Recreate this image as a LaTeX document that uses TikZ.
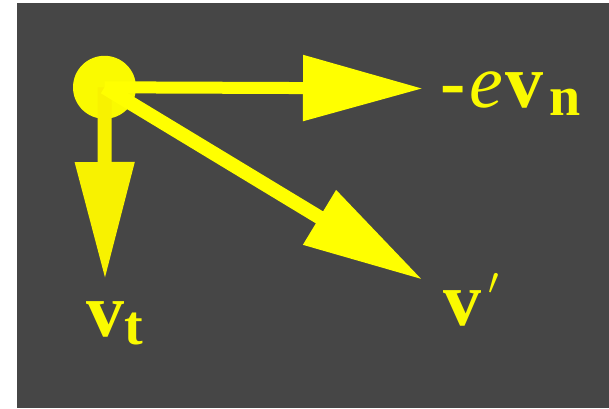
\documentclass[tikz,border=0pt]{standalone}
\usepackage{graphicx}
\usepackage{fontspec}
\setmainfont{Liberation Serif}
\usetikzlibrary{arrows.meta}
\definecolor{bg}{RGB}{70,70,70}
\definecolor{yel}{RGB}{255,255,0}
\definecolor{yelc}{RGB}{250,250,0}
\definecolor{yelv}{RGB}{248,242,0}
\begin{document}
\begin{tikzpicture}[x=1pt,y=-1pt,
  lab/.style={text=yelc, inner sep=0pt, font=\fontsize{76}{80}\selectfont},
  subtxt/.style={font=\fontsize{56}{60}\selectfont\bfseries},
  vec/.style={draw=yel}]
\useasboundingbox (0,0) rectangle (609,408);
\fill[bg] (17,3) rectangle (609,408);
\node[circle, fill=yelc, minimum size=63pt, inner sep=0pt] (c) at (104.5,87.3) {};
\coordinate (tn) at (423,88.5);
\coordinate (tt) at (105,280);
\coordinate (tv) at (423,280);
\draw[vec, line width=12pt, -{Triangle[length=120pt 0 0,width=63pt 0 0]}] (c.center) -- (tn);
\draw[vec, draw=yelv, line width=14pt, -{Triangle[length=118pt 0 0,width=56pt 0 0]}] (c.center) -- (tt);
\draw[vec, line width=14pt, -{Triangle[length=121pt 0 0,width=60pt 0 0]}] (c.center) -- (tv);
\node[lab, anchor=base west] (ln) at (440,107)
  {{\bfseries -}\kern4pt{\itshape e}\kern2pt{\bfseries v}\kern6pt\raisebox{-8pt}{\fontsize{56}{60}\selectfont\bfseries n}};
\node[lab, anchor=base west] (lt) at (86,336)
  {{\bfseries v}\raisebox{-8pt}{\fontsize{56}{60}\selectfont\bfseries t}};
\node[lab, anchor=base west] (lv) at (443,325) {\bfseries v};
\node[text=yelc, inner sep=0pt, anchor=north west] (pr) at (488,273) {\resizebox{!}{21pt}{$\prime$}};
\end{tikzpicture}
\end{document}
